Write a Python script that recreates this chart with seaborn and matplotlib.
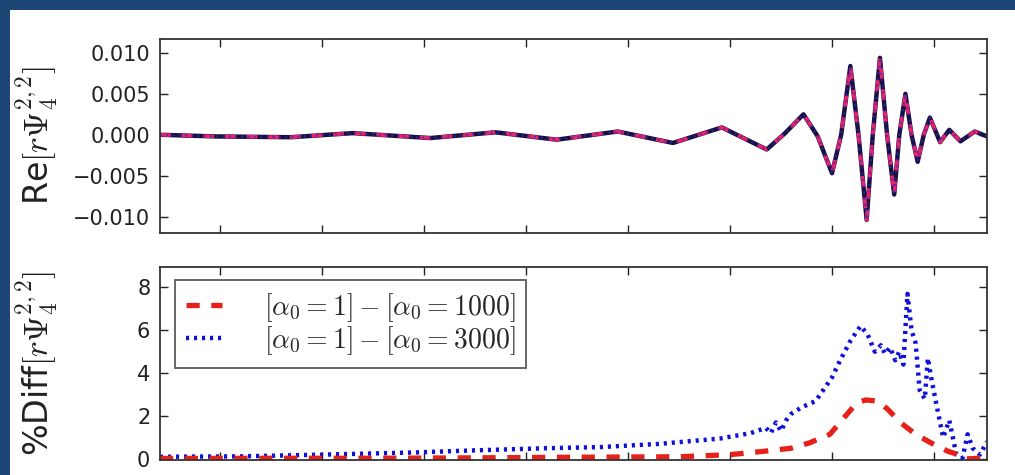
import matplotlib
matplotlib.use("Agg")
import matplotlib.pyplot as plt
import seaborn as sns
import numpy as np
import pandas as pd
from matplotlib.patches import Rectangle

# ---------------- data ----------------
# time coordinate (arbitrary units, x tick every 100)
wave_t = [41, 95, 169, 230, 306, 370, 430, 490, 544, 592, 636, 654, 672, 686, 700,
          709, 718, 726, 734, 740, 747, 754, 761, 766, 772, 778, 784, 790, 796,
          806, 815, 826, 840, 852]
wave_re = [0.0000, -0.0002, -0.0003, 0.0002, -0.0004, 0.0003, -0.0006, 0.0004,
           -0.0010, 0.0009, -0.0018, 0.0002, 0.0025, -0.0002, -0.0047,
           0.0000, 0.0084, 0.0000, -0.0104, 0.0000, 0.0094, 0.0000, -0.0073,
           0.0000, 0.0050, 0.0000, -0.0033, 0.0000, 0.0021,
           -0.0009, 0.0006, -0.0008, 0.0004, -0.0002]

diff1000_t = [41, 150, 250, 350, 450, 550, 600, 632, 660, 678, 698, 715, 724,
              733, 745, 755, 767, 782, 797, 814, 824, 831, 852]
diff1000 = [0.02, 0.03, 0.03, 0.05, 0.08, 0.1, 0.2, 0.35, 0.5, 0.75, 1.15, 2.1,
            2.6, 2.75, 2.7, 2.3, 1.7, 1.15, 0.75, 0.35, 0.2, 0.0, 0.05]

diff3000_t = [41, 120, 200, 290, 350, 420, 472, 530, 590, 620, 635, 640, 645,
              650, 655, 660, 670, 684, 700, 708, 718, 728, 735, 742, 748, 752,
              757, 762, 766, 770, 774, 778, 782, 786, 791, 794, 798, 803, 809,
              815, 822, 828, 833, 838, 845, 852]
diff3000 = [0.1, 0.12, 0.2, 0.3, 0.4, 0.5, 0.55, 0.7, 0.95, 1.2, 1.45, 1.2, 1.7,
            1.3, 1.8, 2.1, 2.4, 2.7, 3.8, 4.6, 5.5, 6.2, 5.8, 5.0, 5.3, 4.9, 5.2,
            4.6, 5.0, 4.4, 7.7, 6.0, 5.4, 3.2, 2.8, 4.7, 3.6, 2.4, 1.0, 1.8,
            0.2, 0.05, 1.15, 0.5, 0.2, 0.8]

legend_labels = [r'$[\alpha_0=1]-[\alpha_0=1000]$', r'$[\alpha_0=1]-[\alpha_0=3000]$']
top_yticks = [-0.010, -0.005, 0.000, 0.005, 0.010]
bot_yticks = [0, 2, 4, 6, 8]
x_ticks = [100, 200, 300, 400, 500, 600, 700, 800]

# ---------------- style ----------------
sns.set_theme(style="ticks")
plt.rcParams['font.family'] = ['DejaVu Sans']
plt.rcParams['mathtext.fontset'] = 'cm'
plt.rcParams['axes.unicode_minus'] = True

fig = plt.figure(figsize=(10.15, 4.75), dpi=100)
fig.patch.set_facecolor('#1d4575')
fig.patches.append(Rectangle((10 / 1015, 0), 1, 1 - 10 / 475, transform=fig.transFigure,
                             facecolor='white', edgecolor='none', zorder=-1))

ax1 = fig.add_axes([160 / 1015, 1 - 233 / 475, 827 / 1015, 194 / 475])
ax2 = fig.add_axes([160 / 1015, 1 - 460 / 475, 827 / 1015, 193 / 475])

df_w = pd.DataFrame({'t': wave_t, 're': wave_re})
sns.lineplot(data=df_w, x='t', y='re', ax=ax1, color='#1a1040', lw=3.2, sort=False)
sns.lineplot(data=df_w, x='t', y='re', ax=ax1, color='#ee2266', lw=2.6, sort=False,
             linestyle=(0, (3, 3)))
sns.lineplot(data=df_w, x='t', y='re', ax=ax1, color='#2a2ad0', lw=1.5, sort=False,
             linestyle=(0, (1, 2)), alpha=0.7)

df1 = pd.DataFrame({'t': diff1000_t, 'd': diff1000})
df3 = pd.DataFrame({'t': diff3000_t, 'd': diff3000})
sns.lineplot(data=df3, x='t', y='d', ax=ax2, color='#1010dd', lw=3.2, sort=False,
             linestyle=(0, (0.7, 1.1)), label=legend_labels[1])
sns.lineplot(data=df1, x='t', y='d', ax=ax2, color='#e8201a', lw=3.8, sort=False,
             linestyle=(0, (2.5, 2.2)), label=legend_labels[0])

for ax in (ax1, ax2):
    ax.set_xlim(41, 852)
    ax.set_xticks(x_ticks)
    ax.tick_params(direction='in', top=True, right=True, length=6, width=1,
                   labelsize=15, colors='#222222', labelbottom=False, pad=7)
    for s in ax.spines.values():
        s.set_color('#333333')
        s.set_linewidth(1.3)
    ax.set_xlabel('')

ax1.set_ylim(-0.0120, 0.0117)
ax1.set_yticks(top_yticks)
ax1.set_yticklabels(['\u22120.010', '\u22120.005', '0.000', '0.005', '0.010'])
ax2.set_ylim(-0.05, 8.95)
ax2.set_yticks(bot_yticks)

ax1.set_ylabel(r'Re$[r\Psi_4^{2,2}]$', fontsize=24, color='#222222')
ax2.set_ylabel(r'%Diff$[r\Psi_4^{2,2}]$', fontsize=24, color='#222222')
ax1.yaxis.set_label_coords(-0.12, 0.5)
ax2.yaxis.set_label_coords(-0.12, 0.5)

h, l = ax2.get_legend_handles_labels()
leg = ax2.legend(h[::-1], l[::-1], loc='upper left', fontsize=20, frameon=True,
                 fancybox=False, edgecolor='#333333', handlelength=1.3,
                 handletextpad=1.5, borderpad=0.4, labelspacing=0.0,
                 borderaxespad=0.0, bbox_to_anchor=(0.018, 0.933))
leg.get_frame().set_linewidth(1.3)

fig.savefig('out.png', dpi=100, facecolor=fig.get_facecolor())
